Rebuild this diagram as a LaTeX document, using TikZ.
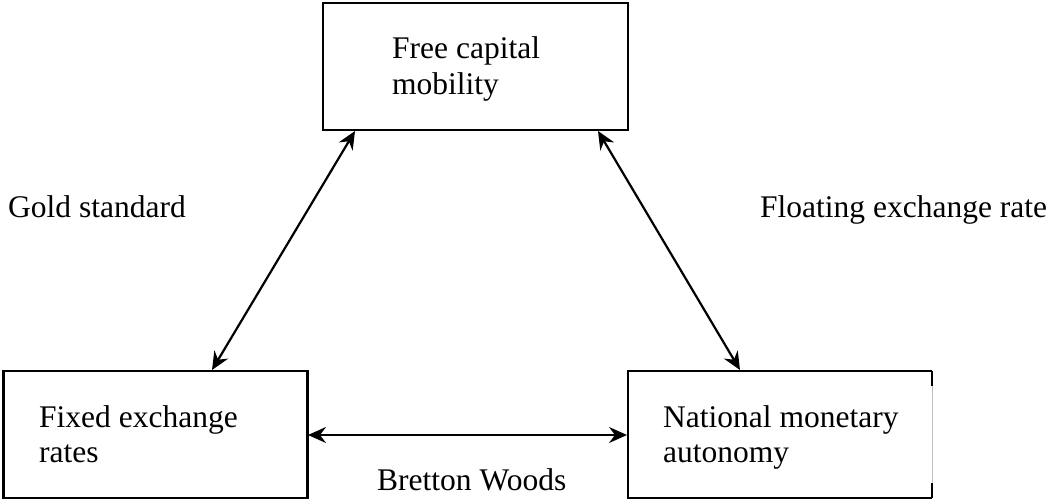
\documentclass[tikz,border=0pt]{standalone}
\usepackage{fontspec}
\setmainfont{Liberation Serif}
\usetikzlibrary{arrows.meta}
\begin{document}
\begin{tikzpicture}[x=1pt,y=-1pt,
  box/.style={draw=black,line width=2.4pt,inner sep=0pt,outer sep=0pt,rectangle},
  lbl/.style={anchor=base west,inner sep=0pt,font=\fontsize{31.5}{36}\selectfont},
  link/.style={line width=2.2pt,{Stealth[length=18pt,width=16pt,inset=6pt]}-{Stealth[length=18pt,width=16pt,inset=6pt]}}]
\useasboundingbox (0,0) rectangle (1051,502);
% boxes
\node[box,minimum width=305pt,minimum height=127pt] (top) at (475.5,66.5) {};
\node[box,minimum width=304pt,minimum height=127pt] (fix) at (155.5,434.5) {};
\node[draw=none,minimum width=304pt,minimum height=127pt,inner sep=0pt,outer sep=0pt] (nat) at (780,434.5) {};
\draw[line width=2.4pt] (nat.north east) -- (nat.north west) -- (nat.south west) -- (nat.south east);
\draw[line width=1pt,black!25] (nat.north east) -- (nat.south east);
\draw[line width=2.4pt] (nat.north east) -- ++(0,15);
\draw[line width=2.4pt] (nat.south east) -- ++(0,-15);
% texts
\node[lbl] (t1) at (392,59) {Free capital};
\node[lbl] (t2) at (392,95) {mobility};
\node[lbl] (f1) at (39,427) {Fixed exchange};
\node[lbl] (f2) at (39,462) {rates};
\node[lbl] (n1) at (663,427) {National monetary};
\node[lbl] (n2) at (663,462) {autonomy};
\node[lbl] (gold) at (8,218) {Gold standard};
\node[lbl] (float) at (760,218) {Floating exchange rate};
\node[lbl] (bw) at (377,490) {Bretton Woods};
% connectors
\coordinate (a1) at (355,131);
\coordinate (a2) at (212,370);
\coordinate (b1) at (598,131);
\coordinate (b2) at (740,370);
\coordinate (c1) at (308,435);
\coordinate (c2) at (627,435);
\draw[link] (a1) -- (a2);
\draw[link] (b1) -- (b2);
\draw[link] (c1) -- (c2);
\end{tikzpicture}
\end{document}
